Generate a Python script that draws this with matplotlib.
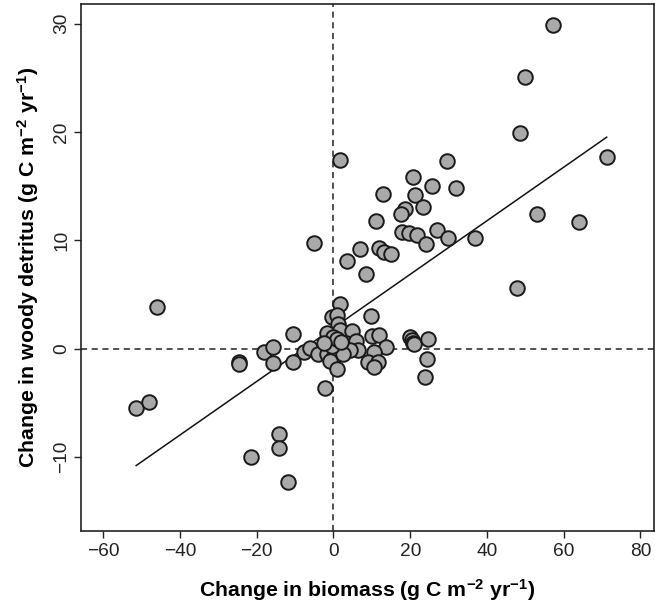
import matplotlib
matplotlib.use("Agg")
import matplotlib.pyplot as plt
import numpy as np

plt.rcParams['font.family'] = ['Liberation Sans', 'DejaVu Sans']
plt.rcParams['mathtext.fontset'] = 'custom'
plt.rcParams['mathtext.rm'] = 'Liberation Sans:bold'
plt.rcParams['mathtext.bf'] = 'Liberation Sans:bold'
plt.rcParams['mathtext.default'] = 'bf'

# Change in biomass (x) and change in woody detritus (y), g C m-2 yr-1
biomass = [
    57.2, 49.8, 48.7, 71.2, 53.0, 63.9, 47.9,
    36.9, 1.6, 29.5, 20.7, 25.6, 31.9, 12.8, 21.3, 23.3, 18.7, 17.5, 11.0,
    17.8, 19.8, 21.9, 26.9, 24.1, 29.8, 7.0, 12.0, 13.2, 15.0, 3.6, 8.4, -5.0,
    -51.4, -48.0, -46.0, -24.6, -24.6, -21.5, -18.2, -15.8, -15.8, -14.1,
    -14.1, -11.8, -10.6, -10.6, -7.8, -6.0, -4.0, -2.2,
    1.6, -0.4, 1.0, 1.3, -1.7, 1.7, 4.9, 0.0, 0.4, 3.3, 5.9, 6.4, 4.3,
    -1.7, -0.2, 2.4, -1.0, 1.0, -0.5, 0.8, 2.0, -2.5,
    9.7, 10.0, 11.9, 13.6, 10.7, 8.9, 11.5, 10.7, 20.0, 20.4, 20.8, 21.1,
    24.6, 24.3, 23.9,
]
detritus = [
    29.9, 25.1, 19.9, 17.7, 12.4, 11.7, 5.6,
    10.2, 17.4, 17.3, 15.8, 15.0, 14.8, 14.3, 14.2, 13.1, 12.9, 12.4, 11.8,
    10.8, 10.7, 10.5, 11.0, 9.7, 10.2, 9.2, 9.3, 8.9, 8.7, 8.1, 6.9, 9.8,
    -5.5, -4.9, 3.9, -1.2, -1.4, -10.0, -0.25, 0.2, -1.3, -7.9,
    -9.1, -12.3, 1.4, -1.2, -0.3, 0.06, -0.5, -3.6,
    4.1, 2.9, 3.1, 2.3, 1.5, 1.7, 1.6, 1.05, 0.4, 0.5, 0.75, -0.1, -0.15,
    -0.5, -0.8, -0.5, -1.1, -1.9, 0.3, 0.9, 0.6, 0.5,
    3.0, 1.2, 1.3, 0.2, -0.25, -1.2, -1.2, -1.7, 1.1, 0.8, 0.5, 0.4,
    0.9, -0.9, -2.6,
]

# Linear fit drawn across the range of the biomass data
fit_intercept = 1.93
fit_slope = 0.247

x_ticks = [-60, -40, -20, 0, 20, 40, 60, 80]
y_ticks = [-10, 0, 10, 20, 30]

fig = plt.figure(figsize=(6.55, 6.06), dpi=100)
ax_w = (653.5 - 81.3) / 655
ax = fig.add_axes([81.3 / 655, 75 / 606, ax_w, (531 - 4) / 606])

ax.axhline(0, color='#222222', lw=1.1, ls=(0, (4, 3)), zorder=1)
ax.axvline(0, color='#222222', lw=1.1, ls=(0, (4, 3)), zorder=1)

xs = np.array(biomass)
xl = np.array([xs.min(), xs.max()])
ax.plot(xl, fit_intercept + fit_slope * xl, color='#111111', lw=1.1, zorder=2)

ax.scatter(biomass, detritus, s=110, facecolor='#a9a9a9', edgecolor='#1a1a1a',
           linewidth=1.4, zorder=3)

ax.set_xlim(-65.7, 83.4)
ax.set_ylim(-16.8, 31.8)
ax.set_xticks(x_ticks)
ax.set_yticks(y_ticks)
ax.set_xticklabels([f"{v}".replace('-', '\u2212') for v in x_ticks], fontsize=13.8)
ax.set_yticklabels([f"{v}".replace('-', '\u2212') for v in y_ticks], fontsize=13.8,
                   rotation=90, va='center')
ax.tick_params(direction='out', length=5, width=1, colors='#222222', pad=4)
ax.tick_params(axis='y', pad=3)
for s in ax.spines.values():
    s.set_linewidth(1.2)
    s.set_color('#222222')

ax.set_xlabel(r"Change in biomass (g C m$^{-2}$ yr$^{-1}$)", fontsize=15.3,
              fontweight='bold', labelpad=12)
ax.set_ylabel(r"Change in woody detritus (g C m$^{-2}$ yr$^{-1}$)", fontsize=15.3,
              fontweight='bold')
# place the y label about 40 px left of the frame
ax.yaxis.set_label_coords(-40 / 572.2, 0.5)

fig.savefig("out.png", dpi=100)
